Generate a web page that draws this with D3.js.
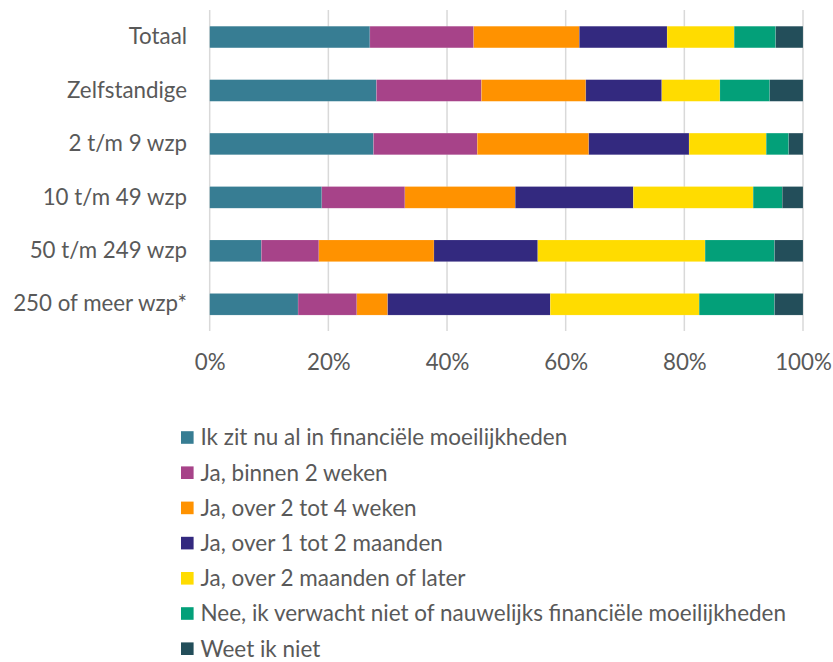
<!DOCTYPE html>
<html>
<head>
<meta charset="utf-8">
<script src="https://cdn.jsdelivr.net/npm/d3@7"></script>
<style>
  html, body { margin: 0; padding: 0; background: #fff; }
  svg { display: block; }
  text { font-family: Lato, "Open Sans", sans-serif; fill: #595959; }
</style>
</head>
<body>
<svg id="chart" width="833" height="662"></svg>
<script>
const categories = ["Totaal", "Zelfstandige", "2 t/m 9 wzp", "10 t/m 49 wzp", "50 t/m 249 wzp", "250 of meer wzp*"];
const seriesNames = [
  "Ik zit nu al in financiële moeilijkheden",
  "Ja, binnen 2 weken",
  "Ja, over 2 tot 4 weken",
  "Ja, over 1 tot 2 maanden",
  "Ja, over 2 maanden of later",
  "Nee, ik verwacht niet of nauwelijks financiële moeilijkheden",
  "Weet ik niet"
];
const colors = ["#377D93", "#A74389", "#FF9200", "#33297F", "#FFDC00", "#03A079", "#234E5A"];
// values per series (in category order)
const sNu       = [27.0, 28.1, 27.6, 18.9,  8.7, 14.9];
const sBinnen2w = [17.5, 17.7, 17.5, 14.0,  9.7,  9.9];
const s2tot4w   = [17.8, 17.6, 18.8, 18.6, 19.4,  5.2];
const s1tot2m   = [14.8, 12.8, 16.9, 19.9, 17.5, 27.4];
const s2mLater  = [11.3,  9.8, 13.0, 20.2, 28.2, 25.1];
const sNee      = [ 7.0,  8.4,  3.8,  4.9, 11.7, 12.7];
const sWeetNiet = [ 4.6,  5.6,  2.4,  3.5,  4.8,  4.8];
const tickValues = [0, 0.2, 0.4, 0.6, 0.8, 1.0];

const seriesValues = [sNu, sBinnen2w, s2tot4w, s1tot2m, s2mLater, sNee, sWeetNiet];
const keys = seriesNames.map((_, i) => "s" + i);
const rows = categories.map((c, ci) => {
  const r = { cat: c };
  const total = d3.sum(seriesValues, s => s[ci]);
  seriesValues.forEach((s, si) => r["s" + si] = s[ci] / total);
  return r;
});

const svg = d3.select("#chart");
const x = d3.scaleLinear().domain([0, 1]).range([209.7, 803]);
const y = d3.scaleBand().domain(categories).range([10.3, 331]).paddingInner(0.595).paddingOuter(0.2975);

// gridlines
svg.append("g").selectAll("line").data(tickValues).join("line")
  .attr("x1", d => x(d)).attr("x2", d => x(d))
  .attr("y1", 10).attr("y2", 331)
  .attr("stroke", "#D9D9D9").attr("stroke-width", 1.5);

const stack = d3.stack().keys(keys)(rows);
svg.append("g").selectAll("g").data(stack).join("g")
  .attr("fill", (d, i) => colors[i])
  .selectAll("rect").data(d => d).join("rect")
  .attr("x", d => x(d[0]))
  .attr("width", d => x(d[1]) - x(d[0]))
  .attr("y", d => y(d.data.cat))
  .attr("height", y.bandwidth())
  .attr("stroke", "rgba(255,255,255,0.25)").attr("stroke-width", 0.5);

// y axis labels
const yAxis = d3.axisLeft(y).tickSize(0).tickPadding(0);
const yg = svg.append("g").attr("transform", "translate(187,0)").call(yAxis);
yg.select(".domain").remove();
yg.selectAll("text").attr("font-size", 18.5).attr("fill", "#595959")
  .style("font-family", "Lato, 'Open Sans', sans-serif");

// x axis labels
const xAxis = d3.axisBottom(x).tickValues(tickValues).tickFormat(d3.format(".0%")).tickSize(0).tickPadding(0);
const xg = svg.append("g").attr("transform", "translate(0,354)").call(xAxis);
xg.select(".domain").remove();
xg.selectAll("text").attr("font-size", 18.5).attr("fill", "#595959").attr("dy", "0.71em")
  .style("font-family", "Lato, 'Open Sans', sans-serif");

// legend
const legend = svg.append("g");
const lg = legend.selectAll("g").data(seriesNames).join("g")
  .attr("transform", (d, i) => `translate(181, ${437.5 + i * 35.2})`);
lg.append("rect").attr("x", 0).attr("y", -6.3).attr("width", 12.6).attr("height", 12.6)
  .attr("fill", (d, i) => colors[i]);
const lt = lg.append("text").attr("x", 19.5).attr("dy", "0.35em").attr("font-size", 18.5)
  .text(d => d);

// fit fonts to reference widths
const longest = lt.nodes()[5].getComputedTextLength();
const fs = 18.5 * 586 / longest;
lt.attr("font-size", fs);
const ylab = yg.selectAll("text").nodes();
const yw = ylab[5].getComputedTextLength();
const yfs = 18.5 * 174 / yw;
yg.selectAll("text").attr("font-size", yfs);
xg.selectAll("text").attr("font-size", yfs);
</script>
</body>
</html>
